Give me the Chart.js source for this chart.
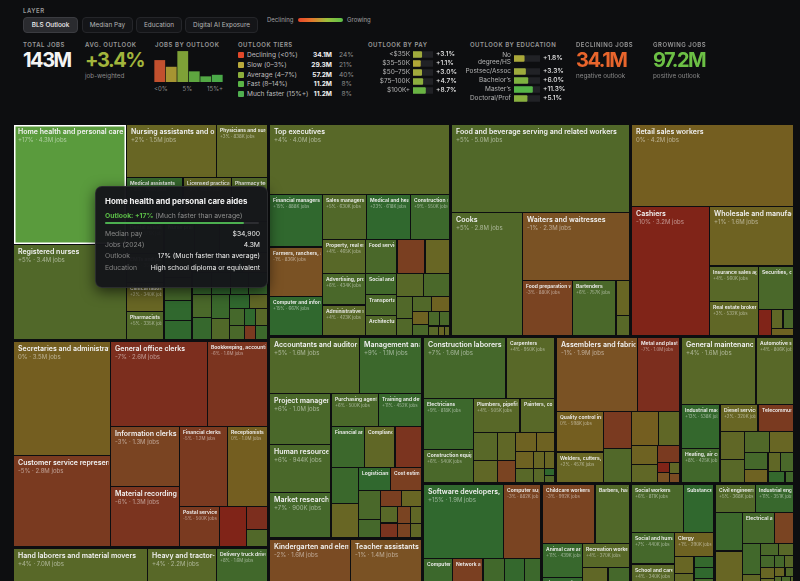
<!DOCTYPE html>
<html>
<head>
<meta charset="utf-8">
<title>BLS Outlook treemap</title>
<script src="https://cdn.jsdelivr.net/npm/chart.js@4.4.1/dist/chart.umd.min.js"></script>
<style>
  html, body { margin: 0; padding: 0; }
  body { width: 800px; height: 581px; overflow: hidden; background: #0d0e10; position: relative;
         font-family: Inter, "Noto Sans", sans-serif; color: #e8e8e8; }
  .abs { position: absolute; white-space: nowrap; line-height: 1; }
  .cap { font-size: 6px; font-weight: 600; letter-spacing: 0.5px; color: #9a9a9a; }
  .btn { position: absolute; top: 17px; height: 16px; box-sizing: border-box; border: 1px solid #25262a;
         background: #141518; border-radius: 4px; font-size: 6.4px; color: #b5b5b5;
         display: flex; align-items: center; justify-content: center; }
  .btn.on { background: #2a2b2f; border-color: #3b3c41; color: #f2f2f2; font-weight: 500; }
  .big { font-size: 20px; font-weight: 700; letter-spacing: -1.5px; }
  .note { font-size: 6.3px; color: #8a8a8a; }
  canvas { position: absolute; }
  #tiers .row { position: absolute; left: 0; height: 8px; font-size: 6.6px; line-height: 8px; white-space: nowrap; }
  #tiers .sw { position: absolute; left: 0; top: 1px; width: 6px; height: 6px; border-radius: 1px; }
  #tiers .nm { position: absolute; left: 9px; color: #bdbdbd; }
  #tiers .jb { position: absolute; width: 30px; text-align: right; font-weight: 700; color: #f0f0f0; }
  #tiers .sh { position: absolute; left: 101px; width: 13px; text-align: right; color: #8f8f8f; }
  #histLabels { display: flex; justify-content: space-between; font-size: 6px; color: #8a8a8a; }
  #tip { position: absolute; left: 95px; top: 186px; width: 173px; height: 102px; box-sizing: border-box;
         background: rgba(21, 22, 26, 0.97); border: 1px solid rgba(255,255,255,0.09); border-radius: 7px;
         box-shadow: 0 4px 14px rgba(0,0,0,0.6); }
  #tip .t { position: absolute; left: 9px; top: 9px; font-size: 7.9px; font-weight: 700; color: #f4f4f4; white-space: nowrap; }
  #tip .o { position: absolute; left: 9px; top: 24px; font-size: 6.8px; color: #8d8d8d; white-space: nowrap; }
  #tip .o b { color: #5cbf48; font-weight: 700; }
  #tip .track { position: absolute; left: 9px; top: 35px; width: 154px; height: 2px; background: #2c2d31; border-radius: 1px; }
  #tip .fill { height: 2px; background: #4caf50; border-radius: 1px; }
  #tip .r { position: absolute; left: 9px; width: 155px; font-size: 6.8px; line-height: 8px; white-space: nowrap; }
  #tip .r span:first-child { color: #858585; }
  #tip .r span:last-child { position: absolute; right: 0; color: #ececec; }
</style>
</head>
<body>

<div class="abs cap" style="left:23px;top:8px">LAYER</div>
<div class="btn on" style="left:23px;width:55px">BLS Outlook</div>
<div class="btn" style="left:82px;width:51px">Median Pay</div>
<div class="btn" style="left:136px;width:46px">Education</div>
<div class="btn" style="left:185px;width:73px">Digital AI Exposure</div>
<div class="abs" style="left:267px;top:17px;font-size:6px;color:#a0a0a0">Declining</div>
<div class="abs" style="left:298px;top:18px;width:45px;height:4px;border-radius:2px;background:linear-gradient(90deg,#e8462a 0%,#e5762c 30%,#9cc03c 65%,#5cbf48 100%)"></div>
<div class="abs" style="left:347px;top:17px;font-size:6px;color:#a0a0a0">Growing</div>

<div class="abs cap" style="left:23px;top:41.5px">TOTAL JOBS</div>
<div class="abs big" style="left:23px;top:50px;color:#f4f4f4">143M</div>

<div class="abs cap" style="left:85px;top:41.5px">AVG. OUTLOOK</div>
<div class="abs big" style="left:85px;top:50px;color:#a2b53c">+3.4%</div>
<div class="abs note" style="left:85px;top:73px">job-weighted</div>

<div class="abs cap" style="left:155px;top:41.5px">JOBS BY OUTLOOK</div>
<canvas id="histChart" width="69" height="34" style="left:154px;top:48px"></canvas>
<div id="histLabels" class="abs" style="left:154px;top:86px;width:69px"></div>

<div class="abs cap" style="left:238px;top:41.5px">OUTLOOK TIERS</div>
<div id="tiers" class="abs" style="left:238px;top:51px;width:115px;height:50px"></div>

<div class="abs cap" style="left:368px;top:41.5px">OUTLOOK BY PAY</div>
<canvas id="payChart" width="100" height="45" style="left:365px;top:50px"></canvas>

<div class="abs cap" style="left:470px;top:41.5px">OUTLOOK BY EDUCATION</div>
<canvas id="eduChartTop" width="110" height="17" style="left:460px;top:50px"></canvas>
<canvas id="eduChart" width="110" height="36" style="left:460px;top:66.5px"></canvas>

<div class="abs cap" style="left:576px;top:41.5px">DECLINING JOBS</div>
<div class="abs big" style="left:576px;top:50px;color:#e8652c">34.1M</div>
<div class="abs note" style="left:576px;top:73px">negative outlook</div>

<div class="abs cap" style="left:653px;top:41.5px">GROWING JOBS</div>
<div class="abs big" style="left:653px;top:50px;color:#6cbf45">97.2M</div>
<div class="abs note" style="left:653px;top:73px">positive outlook</div>

<canvas id="treeChart" width="800" height="600" style="left:0;top:118px"></canvas>

<div id="tip">
  <div class="t"></div>
  <div class="o"><b></b> <span></span></div>
  <div class="track"><div class="fill"></div></div>
  <div class="r" style="top:43px"><span>Median pay</span><span id="tPay"></span></div>
  <div class="r" style="top:54px"><span>Jobs (2024)</span><span id="tJobs"></span></div>
  <div class="r" style="top:65px"><span>Outlook</span><span id="tOut"></span></div>
  <div class="r" style="top:77px"><span>Education</span><span id="tEdu"></span></div>
</div>

<script>
// ---- header data ----
const histLabels = ['<0%', '0–3%', '5%', '8–11%', '12–14%', '15%+'];
const histAxisLabels = ['<0%', '5%', '15%+'];
const histValues = [34.1, 23.7, 48.1, 16.6, 8.8, 11.2];
const histColors = ['#c2502e', '#a69432', '#7ea137', '#5ea63f', '#52a844', '#4aa948'];

const tierNames = ['Declining (<0%)', 'Slow (0–3%)', 'Average (4–7%)', 'Fast (8–14%)', 'Much faster (15%+)'];
const tierJobs = [34.1, 29.3, 57.2, 11.2, 11.2];
const tierShare = [24, 21, 40, 8, 8];
const tierColors = ['#e1482a', '#b9aa3c', '#8caf3c', '#5ab446', '#50af50'];

const payLabels = ['<$35K', '$35–50K', '$50–75K', '$75–100K', '$100K+'];
const payOutlook = [3.1, 1.1, 3.0, 4.7, 8.7];

const eduLabels = [['No', 'degree/HS'], 'Postsec/Assoc', 'Bachelor\u2019s', 'Master\u2019s', 'Doctoral/Prof'];
const eduOutlook = [1.8, 3.3, 6.0, 11.3, 5.1];

// ---- treemap data: [occupation, jobs (thousands), outlook %] ----
const healthcare = [
  ['Home health and personal care aides', 4300, 17],
  ['Registered nurses', 3400, 5],
  ['Nursing assistants and orderlies', 1500, 2],
  ['Physicians and surgeons', 838, 3],
  ['Medical assistants', 790, 12],
  ['Licensed practical and licensed vocational nurses', 680, 3],
  ['Pharmacy technicians', 500, 5],
  ['Dental assistants', 375, 7],
  ['EMTs and paramedics', 350, 5],
  ['Clinical laboratory technologists and technicians', 340, 2],
  ['Pharmacists', 335, 5],
  ['Nurse practitioners', 300, 40],
  ['Physical therapists', 250, 11],
  ['Physical therapist assistants and aides', 240, 17],
  ['Radiologic and MRI technologists', 230, 5],
  ['Dental hygienists', 220, 7],
  ['Medical records specialists', 200, 7],
  ['Speech-language pathologists', 180, 18],
  ['Physician assistants', 170, 28],
  ['Psychiatric technicians and aides', 160, 5],
  ['Occupational therapists', 150, 11],
  ['Dentists', 150, 4],
  ['Respiratory therapists', 140, 12],
  ['Phlebotomists', 140, 6],
  ['Occupational health and safety specialists', 140, 12],
  ['Massage therapists', 130, 15],
  ['Veterinary technologists and technicians', 130, 19],
  ['Diagnostic medical sonographers', 130, 11],
  ['Medical scientists', 130, 10],
  ['Surgical technologists', 120, 5],
  ['Veterinarians', 90, 19],
  ['Opticians, dispensing', 80, 3],
  ['Dietitians and nutritionists', 80, 7],
  ['Medical equipment preparers', 70, 6],
  ['Occupational therapy assistants and aides', 60, 22],
  ['Cardiovascular technologists', 60, 4],
  ['Medical transcriptionists', 50, -5],
  ['Chiropractors', 50, 9]
];
const office = [
  ['Secretaries and administrative assistants', 3500, 0],
  ['Customer service representatives', 2800, -5],
  ['General office clerks', 2600, -7],
  ['Bookkeeping, accounting, and auditing clerks', 1600, -6],
  ['Information clerks', 1300, -3],
  ['Material recording clerks', 1300, -6],
  ['Financial clerks', 1200, -5],
  ['Receptionists', 1000, 0],
  ['Postal service workers', 500, -5],
  ['Data entry keyers', 340, -10],
  ['Office machine operators', 150, -7],
  ['Dispatchers', 110, 5]
];
const transport = [
  ['Hand laborers and material movers', 7000, 4],
  ['Heavy and tractor-trailer truck drivers', 2200, 4],
  ['Delivery truck drivers and driver/sales workers', 1600, 8],
  ['Passenger vehicle drivers', 1100, 8],
  ['Industrial truck and tractor operators', 950, 6],
  ['Airline and commercial pilots', 140, 5],
  ['Flight attendants', 120, 10],
  ['Railroad workers', 90, -1],
  ['Water transportation workers', 80, 2]
];
const management = [
  ['Top executives', 4000, 4],
  ['Financial managers', 888, 15],
  ['Farmers, ranchers, and other agricultural managers', 836, -1],
  ['Computer and information systems managers', 667, 15],
  ['Sales managers', 630, 5],
  ['Medical and health services managers', 618, 23],
  ['Construction managers', 550, 9],
  ['Property, real estate, and community association managers', 465, 4],
  ['Advertising, promotions, and marketing managers', 434, 6],
  ['Administrative services and facilities managers', 423, 4],
  ['Food service managers', 340, 6],
  ['Elementary, middle, and high school principals', 300, -4],
  ['Industrial production managers', 260, 2],
  ['Social and community service managers', 210, 8],
  ['Transportation, storage, and distribution managers', 200, 6],
  ['Architectural and engineering managers', 200, 5],
  ['Postsecondary education administrators', 200, 4],
  ['Human resources managers', 190, 6],
  ['Public relations and fundraising managers', 110, 5],
  ['Natural sciences managers', 90, 5],
  ['Personal service managers', 90, 5],
  ['Purchasing managers', 80, 1],
  ['Childcare center directors', 70, 1],
  ['Entertainment and recreation managers', 60, 6],
  ['Lodging managers', 50, 6],
  ['Training and development managers', 45, 6],
  ['Funeral home managers', 30, 4],
  ['Compensation and benefits managers', 20, 2],
  ['Emergency management directors', 14, 3]
];
const food = [
  ['Food and beverage serving and related workers', 5000, 5],
  ['Cooks', 2800, 5],
  ['Waiters and waitresses', 2300, -1],
  ['Food preparation workers', 880, -3],
  ['Bartenders', 757, 6],
  ['Dishwashers', 150, 2],
  ['Hosts and hostesses', 90, 4]
];
const sales = [
  ['Retail sales workers', 4200, 0],
  ['Cashiers', 3200, -10],
  ['Wholesale and manufacturing sales representatives', 1600, 1],
  ['Insurance sales agents', 560, 4],
  ['Real estate brokers and sales agents', 532, 3],
  ['Securities, commodities, and financial services sales agents', 480, 6],
  ['Telemarketers', 110, -18],
  ['Travel agents', 70, 3],
  ['Sales engineers', 65, 6],
  ['Demonstrators and product promoters', 50, 1]
];
const business = [
  ['Accountants and auditors', 1600, 5],
  ['Management analysts', 1100, 9],
  ['Project management specialists', 1000, 6],
  ['Human resources specialists', 944, 6],
  ['Market research analysts', 900, 7],
  ['Purchasing agents and buyers', 500, 6],
  ['Training and development specialists', 452, 11],
  ['Financial analysts', 430, 9],
  ['Compliance officers', 400, 3],
  ['Claims adjusters, appraisers, examiners, and investigators', 340, -6],
  ['Personal financial advisors', 320, 10],
  ['Loan officers', 300, 2],
  ['Logisticians', 230, 17],
  ['Cost estimators', 220, -4],
  ['Business operations specialists', 200, 6],
  ['Meeting, convention, and event planners', 130, 7],
  ['Insurance underwriters', 110, -4],
  ['Fundraisers', 100, 2],
  ['Compensation and benefits specialists', 90, 4],
  ['Tax preparers', 80, -6],
  ['Credit analysts', 70, -3],
  ['Appraisers of real estate', 60, 3],
  ['Tax examiners and collectors', 60, -3],
  ['Budget analysts', 50, 3]
];
const education = [
  ['Kindergarten and elementary school teachers', 1600, -2],
  ['Teacher assistants', 1400, -1],
  ['Postsecondary teachers', 1300, 8],
  ['High school teachers', 1050, 1],
  ['Middle school teachers', 620, 1],
  ['Preschool teachers', 520, 3],
  ['Special education teachers', 480, 0],
  ['Substitute teachers', 450, 1],
  ['Self-enrichment teachers', 300, 7],
  ['Tutors', 200, 3],
  ['Instructional coordinators', 200, 2],
  ['Librarians and library media specialists', 150, 3],
  ['Career and technical education teachers', 100, 1],
  ['Adult basic and secondary education teachers', 50, -6]
];
const construction = [
  ['Construction laborers and helpers', 1600, 7],
  ['Carpenters', 950, 4],
  ['Electricians', 818, 9],
  ['Construction equipment operators', 540, 6],
  ['Plumbers, pipefitters, and steamfitters', 505, 4],
  ['Painters, construction and maintenance', 380, 4],
  ['Cement masons and concrete finishers', 210, 4],
  ['Roofers', 170, 3],
  ['Highway maintenance workers', 160, 3],
  ['Drywall and ceiling tile installers', 130, -3],
  ['Sheet metal workers', 130, 1],
  ['Brickmasons, blockmasons, and stonemasons', 110, 1],
  ['Flooring installers and tile and stone setters', 100, 1],
  ['Structural iron and steel workers', 80, 4],
  ['Insulation workers', 60, 2],
  ['Glaziers', 55, 2],
  ['Hazardous materials removal workers', 50, 4],
  ['Solar photovoltaic installers', 25, 22],
  ['Elevator and escalator installers and repairers', 25, 5]
];
const production = [
  ['Assemblers and fabricators', 1900, -1],
  ['Metal and plastic machine workers', 1000, -7],
  ['Quality control inspectors', 598, 0],
  ['Welders, cutters, solderers, and brazers', 457, 2],
  ['Printing workers', 330, -5],
  ['Food processing workers', 300, 5],
  ['Machinists and tool and die makers', 290, 0],
  ['Woodworkers', 230, 3],
  ['Painting and coating workers', 160, 1],
  ['Stationary engineers and boiler operators', 150, 3],
  ['Water and wastewater treatment plant operators', 120, -5],
  ['Power plant operators', 40, -10],
  ['Jewelers and precious stone and metal workers', 40, -1],
  ['Dental and ophthalmic laboratory technicians', 35, 3],
  ['Upholsterers', 30, -2]
];
const installation = [
  ['General maintenance and repair workers', 1600, 4],
  ['Automotive service technicians and mechanics', 806, 4],
  ['Industrial machinery mechanics', 538, 13],
  ['Heating, air conditioning, and refrigeration mechanics', 425, 8],
  ['Diesel service technicians and mechanics', 320, 2],
  ['Telecommunications technicians', 300, -5],
  ['Heavy vehicle and mobile equipment service technicians', 220, 3],
  ['Maintenance and repair workers, all other', 180, 4],
  ['Aircraft and avionics equipment mechanics', 170, 5],
  ['Automotive body and glass repairers', 160, 2],
  ['Line installers and repairers', 130, 7],
  ['Computer, ATM, and office machine repairers', 100, 1],
  ['Small engine mechanics', 80, 3],
  ['Security and fire alarm systems installers', 80, 6],
  ['Medical equipment repairers', 60, 13],
  ['Mechanical door repairers', 30, 8]
];
const computer = [
  ['Software developers, QA analysts, and testers', 1900, 15],
  ['Computer support specialists', 882, -3],
  ['Computer systems analysts', 521, 9],
  ['Network and computer systems administrators', 332, -4],
  ['Data scientists', 200, 36],
  ['Web developers and digital designers', 190, 8],
  ['Information security analysts', 180, 29],
  ['Computer network architects', 180, 13],
  ['Database administrators and architects', 145, 9],
  ['Computer programmers', 140, -10],
  ['Operations research analysts', 120, 21],
  ['Actuaries and statisticians', 60, 11]
];
const building = [
  ['Janitors and building cleaners', 2000, 2],
  ['Landscaping and groundskeeping workers', 1000, 4],
  ['Maids and housekeeping cleaners', 650, 0],
  ['Pest control workers', 80, 4]
];
const personal = [
  ['Childcare workers', 992, -3],
  ['Barbers, hairstylists, and cosmetologists', 650, 5],
  ['Animal care and service workers', 439, 11],
  ['Fitness trainers and instructors', 410, 14],
  ['Recreation workers', 370, 4],
  ['Amusement and recreation attendants', 200, 3],
  ['Manicurists and pedicurists', 150, 6],
  ['Skincare specialists', 100, 7],
  ['Funeral service workers', 80, 3],
  ['Ushers, lobby attendants, and ticket takers', 60, 2],
  ['Tour and travel guides', 50, 6]
];
const protective = [
  ['Security guards and gambling surveillance officers', 990, 3],
  ['Police and detectives', 800, 3],
  ['Correctional officers and bailiffs', 420, -7],
  ['Firefighters', 330, 4],
  ['Lifeguards and other recreational protective service workers', 150, 4],
  ['School bus monitors and crossing guards', 110, 1],
  ['Private detectives and investigators', 40, 6],
  ['Fire inspectors', 20, 5]
];
const community = [
  ['Social workers', 811, 6],
  ['Substance abuse, behavioral disorder, and mental health counselors', 470, 17],
  ['Social and human service assistants', 440, 7],
  ['School and career counselors and advisors', 340, 4],
  ['Clergy', 290, 1],
  ['Rehabilitation counselors', 110, 2],
  ['Probation officers and correctional treatment specialists', 90, 3],
  ['Community health workers', 70, 13],
  ['Marriage and family therapists', 70, 15],
  ['Health education specialists', 60, 7]
];
const architecture = [
  ['Civil engineers', 368, 5],
  ['Industrial engineers', 351, 11],
  ['Mechanical engineers', 340, 9],
  ['Engineering technicians', 330, 2],
  ['Electrical and electronics engineers', 320, 7],
  ['Drafters', 190, -3],
  ['Architects', 180, 8],
  ['Surveying and mapping technicians', 80, 3],
  ['Aerospace engineers', 70, 6],
  ['Environmental engineers', 60, 4],
  ['Computer hardware engineers', 55, 7],
  ['Surveyors', 50, 2],
  ['Chemical engineers', 45, 3],
  ['Biomedical engineers', 40, 7],
  ['Landscape architects', 35, 4],
  ['Petroleum engineers', 30, 2],
  ['Health and safety engineers', 25, 5],
  ['Cartographers and photogrammetrists', 25, 5],
  ['Materials engineers', 20, 6],
  ['Nuclear engineers', 15, -1],
  ['Marine engineers and naval architects', 10, 4]
];
const arts = [
  ['Graphic designers', 300, 2],
  ['Public relations specialists', 300, 6],
  ['Coaches and scouts', 300, 9],
  ['Producers and directors', 180, 7],
  ['Musicians and singers', 170, 1],
  ['Writers and authors', 150, 4],
  ['Broadcast, sound, and video technicians', 150, 2],
  ['Photographers', 130, 4],
  ['Art directors', 130, 5],
  ['Editors', 120, -4],
  ['Interior designers', 90, 1],
  ['Interpreters and translators', 80, 2],
  ['Film and video editors', 70, 7],
  ['Technical writers', 60, 4],
  ['Reporters and correspondents', 50, -4],
  ['Floral designers', 50, -2],
  ['Craft and fine artists', 50, 4],
  ['Announcers and DJs', 40, -4],
  ['Umpires, referees, and sports officials', 30, 6],
  ['Dancers and choreographers', 30, 6],
  ['Fashion designers', 25, 3]
];
const science = [
  ['Psychologists', 220, 7],
  ['Biological scientists', 120, 5],
  ['Chemists and materials scientists', 100, 5],
  ['Social scientists, all other', 100, 4],
  ['Biological technicians', 90, 5],
  ['Environmental scientists', 90, 4],
  ['Life scientists, all other', 80, 5],
  ['Physical scientists, all other', 80, 5],
  ['Chemical technicians', 70, 2],
  ['Urban and regional planners', 40, 4],
  ['Agricultural and food scientists', 40, 8],
  ['Conservation scientists and foresters', 40, 4],
  ['Biochemists and biophysicists', 40, 9],
  ['Social science research assistants', 40, 5],
  ['Environmental science technicians', 40, 6],
  ['Geoscientists', 30, 5],
  ['Forest and conservation technicians', 30, 2],
  ['Occupational health and safety technicians', 30, 13],
  ['Agricultural and food science technicians', 30, 5],
  ['Physicists and astronomers', 25, 7],
  ['Economists', 20, 5],
  ['Microbiologists', 20, 5],
  ['Zoologists and wildlife biologists', 20, 2],
  ['Food scientists and technologists', 20, 8],
  ['Sociologists and political scientists', 15, 5],
  ['Geological technicians', 15, 4],
  ['Epidemiologists', 10, 19],
  ['Survey researchers', 10, 4],
  ['Atmospheric scientists', 10, 2],
  ['Hydrologists', 10, 4],
  ['Nuclear technicians', 5, -1]
];
const legal = [
  ['Lawyers', 900, 5],
  ['Paralegals and legal assistants', 450, 1],
  ['Judges and hearing officers', 30, 1],
  ['Court reporters and simultaneous captioners', 20, 2]
];
const farming = [
  ['Agricultural workers', 920, 0],
  ['Logging workers', 40, -3],
  ['Fishing and hunting workers', 30, -2],
  ['Forest and conservation workers', 10, 3]
];

const hoveredName = 'Home health and personal care aides';
const hoveredPay = '$34,900';
const hoveredEducation = 'High school diploma or equivalent';

// ---- styles ----
const TREE_W = 779, TREE_H = 588;
const GROUP_GAP = 3, CELL_GAP = 1.2;
const AXIS_MIN = -10, AXIS_MAX = 20;

const cellStops = [
  [-10, [128, 36, 24]], [-7, [124, 46, 30]], [-5, [122, 58, 32]], [-3, [122, 68, 34]],
  [-1, [122, 82, 36]], [0, [116, 94, 32]], [2, [104, 102, 36]], [4, [88, 104, 40]],
  [6, [74, 104, 42]], [9, [60, 104, 44]], [15, [48, 104, 46]]
];
const barStops = [
  [0, [186, 165, 52]], [3, [160, 170, 60]], [6, [125, 178, 63]], [12, [80, 181, 72]]
];

function lerpStops(stops, v) {
  if (v <= stops[0][0]) return stops[0][1];
  for (let i = 1; i < stops.length; i++) {
    if (v <= stops[i][0]) {
      const [a, ca] = stops[i - 1], [b, cb] = stops[i];
      const t = (v - a) / (b - a);
      return ca.map((c, k) => Math.round(c + (cb[k] - c) * t));
    }
  }
  return stops[stops.length - 1][1];
}
const rgb = c => `rgb(${c[0]},${c[1]},${c[2]})`;
const cellColor = v => rgb(lerpStops(cellStops, v));
const barColor = v => rgb(lerpStops(barStops, v));

function tierLabel(v) {
  if (v < 0) return 'Declining';
  if (v <= 3) return 'Slow';
  if (v <= 7) return 'Average';
  if (v <= 14) return 'Fast';
  return 'Much faster than average';
}
const fmtJobs = k => k >= 1000 ? (k / 1000).toFixed(1) + 'M' : Math.round(k) + 'K';
const fmtPct = v => (v > 0 ? '+' : '') + v + '%';

// ---- squarified layout (ratio 1) ----
function squarify(nodes, x0, y0, x1, y1) {
  let value = nodes.reduce((s, n) => s + n.value, 0);
  let i0 = 0, i1 = 0;
  const n = nodes.length;
  while (i0 < n) {
    const dx = x1 - x0, dy = y1 - y0;
    let sumValue = nodes[i1++].value;
    let minValue = sumValue, maxValue = sumValue;
    const alpha = Math.max(dy / dx, dx / dy) / value;
    let beta = sumValue * sumValue * alpha;
    let minRatio = Math.max(maxValue / beta, beta / minValue);
    for (; i1 < n; ++i1) {
      const nodeValue = nodes[i1].value;
      sumValue += nodeValue;
      if (nodeValue < minValue) minValue = nodeValue;
      if (nodeValue > maxValue) maxValue = nodeValue;
      beta = sumValue * sumValue * alpha;
      const newRatio = Math.max(maxValue / beta, beta / minValue);
      if (newRatio > minRatio) { sumValue -= nodeValue; break; }
      minRatio = newRatio;
    }
    const row = nodes.slice(i0, i1);
    if (dx < dy) {
      const yy = i1 < n ? y0 + dy * sumValue / value : y1;
      let xx = x0;
      const k = (x1 - x0) / sumValue;
      row.forEach(nd => { nd.x0 = xx; xx += nd.value * k; nd.x1 = xx; nd.y0 = y0; nd.y1 = yy; });
      y0 = yy;
    } else {
      const xx = i1 < n ? x0 + dx * sumValue / value : x1;
      let yy = y0;
      const k = (y1 - y0) / sumValue;
      row.forEach(nd => { nd.y0 = yy; yy += nd.value * k; nd.y1 = yy; nd.x0 = x0; nd.x1 = xx; });
      x0 = xx;
    }
    value -= sumValue;
    i0 = i1;
  }
}
function inset(nd, p) { nd.x0 += p; nd.y0 += p; nd.x1 -= p; nd.y1 -= p; }

const groups = [healthcare, office, transport, management, food, sales, business, education,
  construction, production, installation, computer, building, personal, protective,
  community, architecture, arts, science, legal, farming].map(rows => {
  const children = rows.map(([name, jobs, outlook]) => ({ name, value: jobs, outlook }));
  children.sort((a, b) => b.value - a.value);
  return { children, value: children.reduce((s, c) => s + c.value, 0) };
});
groups.sort((a, b) => b.value - a.value);

squarify(groups, -GROUP_GAP / 2, -GROUP_GAP / 2, TREE_W + GROUP_GAP / 2, TREE_H + GROUP_GAP / 2);
const cells = [];
groups.forEach(g => {
  inset(g, GROUP_GAP / 2);
  squarify(g.children, g.x0 - CELL_GAP / 2, g.y0 - CELL_GAP / 2, g.x1 + CELL_GAP / 2, g.y1 + CELL_GAP / 2);
  g.children.forEach(c => { inset(c, CELL_GAP / 2); cells.push(c); });
});

// ---- plugins ----
const treemapCells = {
  id: 'treemapCells',
  afterDatasetsDraw(chart) {
    const { ctx, scales: { x, y } } = chart;
    ctx.save();
    for (const c of cells) {
      const px0 = Math.round(x.getPixelForValue(c.x0));
      const px1 = Math.round(x.getPixelForValue(c.x1));
      const py0 = Math.round(y.getPixelForValue(c.y0));
      const py1 = Math.round(y.getPixelForValue(c.y1));
      const w = px1 - px0, h = py1 - py0;
      if (w <= 0 || h <= 0) continue;
      const hovered = c.name === hoveredName;
      ctx.fillStyle = hovered ? '#5a9b3d' : cellColor(c.outlook);
      ctx.fillRect(px0, py0, w, h);
      if (hovered) {
        ctx.strokeStyle = '#ffffff';
        ctx.lineWidth = 1.5;
        ctx.strokeRect(px0 + 0.75, py0 + 0.75, w - 1.5, h - 1.5);
      }
      if (w >= 28 && h >= 12) {
        const big = w >= 60 && h >= 30;
        const ts = big ? 7 : 5;
        const pad = big ? 4 : 3;
        ctx.save();
        ctx.beginPath();
        ctx.rect(px0, py0, w - 1.5, h);
        ctx.clip();
        ctx.textBaseline = 'middle';
        ctx.font = `600 ${ts}px Inter`;
        ctx.fillStyle = '#f1f1f1';
        ctx.fillText(c.name, px0 + pad, py0 + (big ? 7.3 : 5.3));
        if (w >= 36 && h >= 20) {
          ctx.font = `${big ? 6 : 4.4}px Inter`;
          ctx.fillStyle = 'rgba(255,255,255,0.5)';
          ctx.fillText(fmtPct(c.outlook) + ' \u00b7 ' + fmtJobs(c.value) + ' jobs', px0 + pad, py0 + (big ? 15 : 11.5));
        }
        ctx.restore();
      }
    }
    ctx.restore();
  }
};

const barValueLabels = {
  id: 'barValueLabels',
  afterDatasetsDraw(chart) {
    const { ctx, chartArea } = chart;
    const values = chart.data.datasets[0].data;
    ctx.save();
    ctx.font = '500 6.6px Inter';
    ctx.fillStyle = '#e8e8e8';
    ctx.textBaseline = 'middle';
    chart.getDatasetMeta(0).data.forEach((bar, i) => {
      ctx.fillText('+' + values[i].toFixed(1) + '%', chartArea.right + 3, bar.y);
    });
    ctx.restore();
  }
};

Chart.defaults.font.family = 'Inter, "Noto Sans", sans-serif';

// ---- charts ----
new Chart(document.getElementById('histChart'), {
  type: 'bar',
  data: { labels: histLabels, datasets: [{ data: histValues, backgroundColor: histColors, barPercentage: 0.94, categoryPercentage: 1 }] },
  options: {
    responsive: false, animation: false, events: [],
    layout: { autoPadding: false },
    scales: { x: { display: false }, y: { display: false, min: 0, max: Math.max(...histValues) * 1.1 } },
    plugins: { legend: { display: false }, tooltip: { enabled: false } }
  }
});
document.getElementById('histLabels').innerHTML = histAxisLabels.map(l => `<span>${l.replace('<', '&lt;')}</span>`).join('');

function hbarChart(id, labels, values, axisWidth, rightPad) {
  return new Chart(document.getElementById(id), {
    type: 'bar',
    data: {
      labels,
      datasets: [
        { data: values, backgroundColor: values.map(barColor), base: AXIS_MIN, grouped: false,
          barThickness: 6, borderRadius: 1 },
        { data: values.map(() => AXIS_MAX), backgroundColor: '#212226', base: AXIS_MIN, grouped: false,
          barThickness: 6, borderRadius: 1 }
      ]
    },
    options: {
      indexAxis: 'y', responsive: false, animation: false, events: [],
      layout: { autoPadding: false, padding: { left: 0, top: 0, bottom: 0, right: rightPad } },
      scales: {
        x: { display: false, min: AXIS_MIN, max: AXIS_MAX },
        y: {
          grid: { display: false, drawTicks: false }, border: { display: false },
          ticks: { color: '#b4b4b4', font: { size: 6.5, lineHeight: 1.15 }, padding: 3, autoSkip: false },
          afterFit(scale) { scale.width = axisWidth; scale.paddingTop = 0; scale.paddingBottom = 0; }
        }
      },
      plugins: { legend: { display: false }, tooltip: { enabled: false } }
    },
    plugins: [barValueLabels]
  });
}
hbarChart('payChart', payLabels, payOutlook, 48, 32);
hbarChart('eduChartTop', eduLabels.slice(0, 1), eduOutlook.slice(0, 1), 54, 30);
hbarChart('eduChart', eduLabels.slice(1), eduOutlook.slice(1), 54, 30);

new Chart(document.getElementById('treeChart'), {
  type: 'scatter',
  data: { datasets: [{ data: [] }] },
  options: {
    responsive: false, animation: false, events: [],
    layout: { autoPadding: false, padding: { left: 14, right: 7, top: 7, bottom: 5 } },
    scales: {
      x: { type: 'linear', min: 0, max: TREE_W, display: false },
      y: { type: 'linear', min: 0, max: TREE_H, reverse: true, display: false }
    },
    plugins: { legend: { display: false }, tooltip: { enabled: false } }
  },
  plugins: [treemapCells]
});

// ---- tiers list ----
document.getElementById('tiers').innerHTML = tierNames.map((nm, i) =>
  `<div class="row" style="top:${i * 9.75}px;width:115px">
     <div class="sw" style="background:${tierColors[i]}"></div>
     <span class="nm">${nm.replace('<', '&lt;')}</span>
     <span class="jb" style="left:64px">${tierJobs[i].toFixed(1)}M</span>
     <span class="sh">${tierShare[i]}%</span>
   </div>`).join('');

// ---- tooltip ----
const hov = cells.find(c => c.name === hoveredName);
const tip = document.getElementById('tip');
tip.querySelector('.t').textContent = hov.name;
tip.querySelector('.o b').textContent = 'Outlook: ' + fmtPct(hov.outlook);
tip.querySelector('.o span').textContent = '(' + tierLabel(hov.outlook) + ')';
tip.querySelector('.fill').style.width = ((hov.outlook - AXIS_MIN) / (AXIS_MAX - AXIS_MIN) * 100) + '%';
document.getElementById('tPay').textContent = hoveredPay;
document.getElementById('tJobs').textContent = fmtJobs(hov.value);
document.getElementById('tOut').textContent = hov.outlook + '% (' + tierLabel(hov.outlook) + ')';
document.getElementById('tEdu').textContent = hoveredEducation;
</script>
</body>
</html>
